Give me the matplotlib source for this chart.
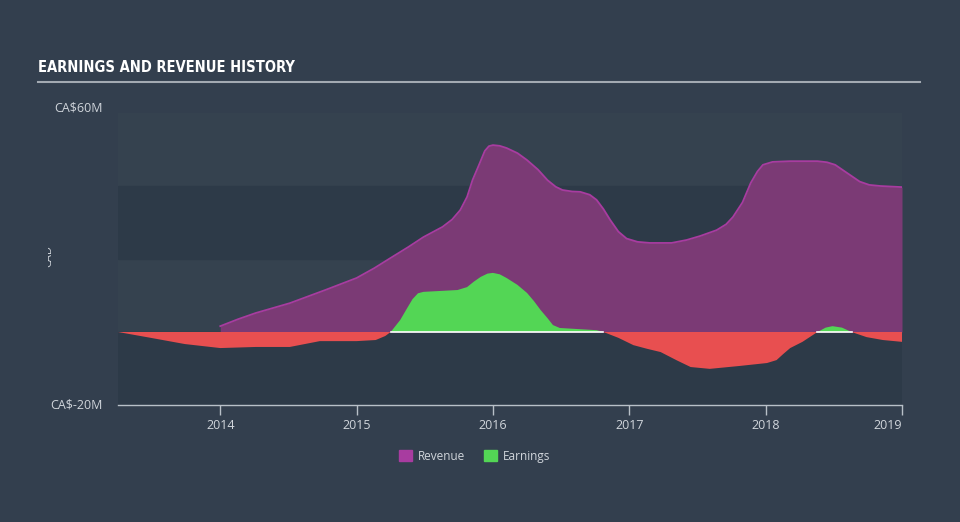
import matplotlib
matplotlib.use("Agg")
import matplotlib.pyplot as plt
from matplotlib import font_manager
from matplotlib.transforms import Bbox
import numpy as np
from matplotlib.patches import Patch

# values (fractional year, CA$ millions)
rev_t = [2014.00, 2014.13, 2014.26, 2014.51, 2014.77, 2015.00, 2015.13, 2015.25,
         2015.38, 2015.49, 2015.63, 2015.70, 2015.76, 2015.81, 2015.85, 2015.90,
         2015.94, 2015.97, 2016.00, 2016.05, 2016.10, 2016.18, 2016.25, 2016.33,
         2016.40, 2016.46, 2016.51, 2016.58, 2016.64, 2016.71, 2016.76, 2016.81,
         2016.86, 2016.92, 2016.98, 2017.06, 2017.15, 2017.31, 2017.42, 2017.52,
         2017.64, 2017.71, 2017.76, 2017.83, 2017.89, 2017.94, 2017.98, 2018.05,
         2018.18, 2018.38, 2018.45, 2018.51, 2018.60, 2018.69, 2018.76, 2018.84,
         2019.00]
rev_v = [1.6, 3.5, 5.2, 7.9, 11.5, 14.8, 17.5, 20.3,
         23.3, 26.0, 28.8, 30.8, 33.4, 37.0, 41.6, 46.0,
         49.6, 50.9, 51.2, 51.0, 50.4, 49.0, 47.1, 44.5,
         41.6, 39.8, 38.9, 38.5, 38.4, 37.6, 36.2, 33.7,
         30.7, 27.5, 25.6, 24.7, 24.4, 24.4, 25.2, 26.3,
         27.9, 29.5, 31.5, 35.5, 40.8, 44.0, 45.8, 46.6,
         46.8, 46.8, 46.5, 45.8, 43.5, 41.2, 40.3, 40.0,
         39.7]

earn_t = [2013.25, 2013.49, 2013.74, 2014.00, 2014.26, 2014.51, 2014.62, 2014.73,
          2015.00, 2015.14, 2015.21, 2015.25, 2015.32, 2015.37, 2015.41, 2015.45,
          2015.49, 2015.74, 2015.81, 2015.86, 2015.91, 2015.96, 2016.00, 2016.05,
          2016.10, 2016.18, 2016.25, 2016.30, 2016.35, 2016.40, 2016.44, 2016.49,
          2016.76, 2016.81, 2016.92, 2017.03, 2017.13, 2017.23, 2017.35, 2017.45,
          2017.59, 2017.81, 2018.01, 2018.08, 2018.13, 2018.18, 2018.27, 2018.38,
          2018.44, 2018.49, 2018.56, 2018.63, 2018.74, 2018.86, 2019.00]
earn_v = [0.0, -1.6, -3.3, -4.4, -4.1, -4.1, -3.3, -2.5,
          -2.5, -2.2, -1.1, 0.0, 3.3, 6.5, 9.0, 10.6,
          11.0, 11.5, 12.3, 13.8, 15.1, 16.0, 16.2, 15.8,
          14.8, 12.9, 10.7, 8.5, 6.0, 3.8, 1.9, 1.1,
          0.5, 0.0, -1.6, -3.6, -4.6, -5.5, -7.8, -9.6,
          -10.1, -9.3, -8.5, -7.7, -6.0, -4.4, -2.7, 0.0,
          1.2, 1.6, 1.2, 0.0, -1.4, -2.2, -2.7]

years = [2014, 2015, 2016, 2017, 2018, 2019]

bg = "#333f4e"
band = "#2d3a48"
txt = "#d0d5db"
rev_fill = "#7b3a75"
rev_line = "#a83ca0"
green = "#53d655"
red = "#e84f50"

names = {f.name for f in font_manager.fontManager.ttflist}
narrow = [f for f in font_manager.fontManager.ttflist if "Narrow" in f.name or
          "Condensed" in f.name or f.stretch in ("condensed", "semi-condensed")]
if "Liberation Sans Narrow" in names:
    title_font = dict(family="Liberation Sans Narrow")
elif narrow:
    title_font = dict(family=narrow[0].name, stretch=narrow[0].stretch)
else:
    title_font = dict(family="DejaVu Sans", stretch="condensed")

fig = plt.figure(figsize=(9.6, 5.22), dpi=100, facecolor=bg)
ax = fig.add_axes([118/960, 1-405/522, (902-118)/960, (405-113)/522])
ax.set_facecolor("#35424f")

ax.axhspan(20, 40, color=band, zorder=0)
ax.axhspan(-20, 0, color=band, zorder=0)

rt = np.array(rev_t)
rv = np.array(rev_v)
ax.fill_between(rt, 0, rv, color=rev_fill, zorder=2, linewidth=0)
ax.plot(rt, rv, color=rev_line, lw=1.3, zorder=3, solid_joinstyle="round")

et = np.array(earn_t)
ev = np.array(earn_v)
ax.fill_between(et, 0, ev, where=ev >= 0, interpolate=True, color=green, lw=0, zorder=4)
ax.fill_between(et, 0, ev, where=ev <= 0, interpolate=True, color=red, lw=0, zorder=4)
pos = np.convolve(ev > 0, [1, 1, 1], mode="same") > 0
ax.plot(et, np.where(pos, 0.0, np.nan), color="white", lw=1.2, zorder=5)

ax.set_xlim(2013.25, 2019.0)
ax.set_ylim(-20, 60)
for s in ["top", "right", "left"]:
    ax.spines[s].set_visible(False)
ax.spines["bottom"].set_color("#b8c0c8")
ax.spines["bottom"].set_linewidth(1)
ax.set_yticks([])
ax.set_xticks(years)
ax.set_xticklabels([str(y) for y in years])
ax.tick_params(axis="x", colors="#b8c0c8", labelcolor=txt, length=7, width=1,
               labelsize=9, pad=3)
for lab in ax.get_xticklabels():
    lab.set_fontfamily("Open Sans")
ax.get_xticklabels()[-1].set_horizontalalignment("right")

fig.text(103/960, 1-108/522, "CA$60M", color=txt, fontsize=9, family="Open Sans",
         ha="right", va="center")
fig.text(103/960, 1-405/522, "CA$-20M", color=txt, fontsize=9, family="Open Sans",
         ha="right", va="center")
cad = fig.text(48.5/960, 1-256/522, "CAD", color=txt, fontsize=8, family="Open Sans",
               rotation=90, ha="center", va="center")
cad.set_clip_box(Bbox.from_extents(48, 0, 960, 522))
cad.set_clip_on(True)

fig.text(38/960, 1-68/522, "EARNINGS AND REVENUE HISTORY", color="white",
         fontsize=10.5, fontweight="bold", ha="left", va="center", **title_font)
fig.add_artist(plt.Line2D([38/960, 920/960], [1-82/522, 1-82/522],
                          color="#a3aab2", lw=1.5, transform=fig.transFigure))

handles = [Patch(color=rev_line, label="Revenue"), Patch(color=green, label="Earnings")]
leg = fig.legend(handles=handles, loc="center", bbox_to_anchor=(475/960, 1-456/522),
                 ncol=2, frameon=False, fontsize=8.5, handlelength=1.1,
                 handleheight=1.1, columnspacing=1.6, handletextpad=0.5)
for t in leg.get_texts():
    t.set_color(txt)
    t.set_fontfamily("Open Sans")

fig.savefig("out.png", dpi=100, facecolor=bg)
